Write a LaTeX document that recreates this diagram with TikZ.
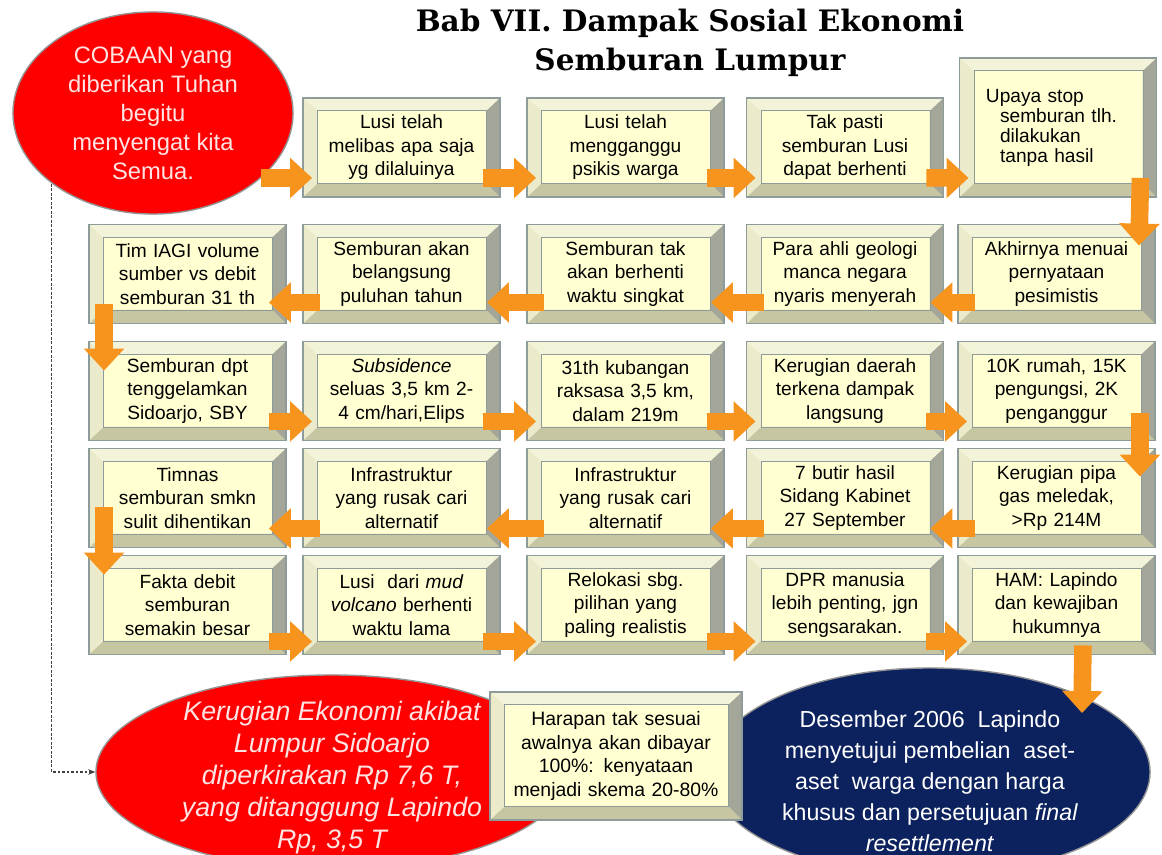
\documentclass[tikz,border=0pt]{standalone}
\usepackage{fontspec}
\setmainfont{Liberation Sans}
\newfontfamily\titlefont{DejaVu Serif}
\usepackage{tikz}
\usetikzlibrary{shapes.geometric}
\usetikzlibrary{arrows.meta}

\definecolor{boxface}{HTML}{FFFFD2}
\definecolor{boxtop}{HTML}{F3F3DA}
\definecolor{boxleft}{HTML}{EBEBCC}
\definecolor{boxright}{HTML}{A3A698}
\definecolor{boxbottom}{HTML}{C6C6A2}
\definecolor{boxedge}{HTML}{8D9B9B}
\definecolor{flowor}{HTML}{F7941D}
\definecolor{lumpur}{HTML}{FF0000}
\definecolor{malam}{HTML}{0C225E}
\definecolor{pinktext}{HTML}{FFE4E4}

\newcommand{\bevelfaces}{%
  \coordinate (pnw) at (path picture bounding box.north west);
  \coordinate (pse) at (path picture bounding box.south east);
  \coordinate (qnw) at ([shift={(0.36cm,-0.32cm)}]pnw);
  \coordinate (qse) at ([shift={(-0.34cm,0.34cm)}]pse);
  \fill[boxtop] (pnw) -- (pnw -| pse) -- (qnw -| qse) -- (qnw) -- cycle;
  \fill[boxbottom] (pnw |- pse) -- (pse) -- (qse) -- (qnw |- qse) -- cycle;
  \fill[boxleft] (pnw) -- (qnw) -- (qnw |- qse) -- (pnw |- pse) -- cycle;
  \fill[boxright] (pnw -| pse) -- (pse) -- (qse) -- (qnw -| qse) -- cycle;
  \draw[boxedge, line width=0.5pt] (qnw) rectangle (qse);
}

\tikzset{
  panel/.style={rectangle, draw=boxedge, line width=1.3pt, fill=boxface, inner sep=0pt,
    minimum width=4.925cm, minimum height=2.475cm, text width=4.5cm, align=center,
    font=\fontsize{13.6}{16.7}\selectfont, path picture={\bevelfaces}},
  oval/.style={ellipse, draw=gray!85, line width=1pt, inner sep=-2cm, align=center},
  flow/.style={draw=flowor, line width=0.44cm, -{Triangle[length=0.55cm,width=0.98cm]}},
  hint/.style={draw=black!75, line width=0.8pt, dash pattern=on 2pt off 1.2pt,
    -{Stealth[length=5pt,width=4pt]}},
}

\begin{document}
\begin{tikzpicture}[x=0.025cm, y=-0.025cm]
        \useasboundingbox (0,0) rectangle (1162,854);

        \node (judul) at (690,43) [align=center, font=\titlefont\bfseries\fontsize{21}{27.5}\selectfont]
            {Bab VII. Dampak Sosial Ekonomi\\Semburan Lumpur};

        \node (cobaan) at (153,113) [oval, fill=lumpur, text=pinktext, minimum width=7cm, minimum height=5.05cm,
            font=\fontsize{16.9}{20.6}\selectfont] {COBAAN yang\\diberikan Tuhan\\begitu\\menyengat kita\\Semua.};
        \node (kerugian) at (332,772) [oval, fill=lumpur, text=pinktext, minimum width=11.8cm, minimum height=4.85cm,
            font=\itshape\fontsize{19}{22.8}\selectfont]
            {\rule{0pt}{22pt}Kerugian Ekonomi akibat\\Lumpur Sidoarjo\\diperkirakan Rp 7,6 T,\\yang ditanggung Lapindo\\Rp, 3,5 T};
        \node (desember) at (930,772) [oval, fill=malam, text=white, minimum width=11cm, minimum height=5.2cm,
            font=\fontsize{16.5}{22}\selectfont]
            {\rule{0pt}{25pt}Desember 2006~ Lapindo\\menyetujui pembelian~ aset-\\aset~ warga dengan harga\\khusus dan persetujuan \textit{final}\\\textit{resettlement}};
        \node (harapan) at (616,756) [panel, minimum width=6.3cm, minimum height=3.2cm, text width=5.6cm,
            font=\fontsize{13.8}{17}\selectfont]
            {Harapan tak sesuai\\awalnya akan dibayar\\100\%: kenyataan\\menjadi skema 20-80\%};

        \node (lusi) at (401.5,147.5) [panel] {Lusi telah\\melibas apa saja\\yg dilaluinya};
        \node (psikis) at (625.5,147.5) [panel] {Lusi telah\\mengganggu\\psikis warga};
        \node (takpasti) at (845,147.5) [panel] {Tak pasti\\semburan Lusi\\dapat berhenti};
        \node (upaya) at (1058,127.5) [panel, minimum height=3.475cm, text width=3.6cm, align=left,
            font=\fontsize{13.6}{14.2}\selectfont]
            {Upaya stop\\\hspace*{10pt}semburan tlh.\\\hspace*{10pt}dilakukan\\\hspace*{10pt}tanpa hasil\\[6pt]};

        \node (akhirnya) at (1056.5,274) [panel] {Akhirnya menuai\\pernyataan\\pesimistis};
        \node (ahli) at (845,274) [panel] {Para ahli geologi\\manca negara\\nyaris menyerah};
        \node (takhenti) at (625.5,274) [panel] {Semburan tak\\akan berhenti\\waktu singkat};
        \node (puluhan) at (401.5,274) [panel] {Semburan akan\\belangsung\\puluhan tahun};
        \node (iagi) at (187.5,274) [panel] {Tim IAGI volume\\sumber vs debit\\semburan 31 th};

        \node (tenggelam) at (187.5,391) [panel] {Semburan dpt\\tenggelamkan\\Sidoarjo, SBY};
        \node (subsid) at (401.5,391) [panel] {\textit{Subsidence}\\seluas 3,5 km 2-\\4 cm/hari,Elips};
        \node (kubangan) at (625.5,391) [panel] {31th kubangan\\raksasa 3,5 km,\\dalam 219m};
        \node (daerah) at (845,391) [panel] {Kerugian daerah\\terkena dampak\\langsung};
        \node (rumah) at (1056.5,391) [panel] {10K rumah, 15K\\pengungsi, 2K\\penganggur};

        \node (pipa) at (1056.5,498) [panel] {Kerugian pipa\\gas meledak,\\>Rp 214M};
        \node (sidang) at (845,498) [panel] {7 butir hasil\\Sidang Kabinet\\27 September};
        \node (infrab) at (625.5,498) [panel] {Infrastruktur\\yang rusak cari\\alternatif};
        \node (infraa) at (401.5,498) [panel] {Infrastruktur\\yang rusak cari\\alternatif};
        \node (timnas) at (187.5,498) [panel] {Timnas\\semburan smkn\\sulit dihentikan};

        \node (fakta) at (187.5,605) [panel] {Fakta debit\\semburan\\semakin besar};
        \node (mudvol) at (401.5,605) [panel] {Lusi~ dari \textit{mud}\\\textit{volcano} berhenti\\waktu lama};
        \node (relokasi) at (625.5,605) [panel] {Relokasi sbg.\\pilihan yang\\paling realistis};
        \node (dpr) at (845,605) [panel] {DPR manusia\\lebih penting, jgn\\sengsarakan.};
        \node (ham) at (1056.5,605) [panel] {HAM: Lapindo\\dan kewajiban\\hukumnya};

        \draw [flow] (cobaan.-31) -- ([shift={(10,-20)}]lusi.south west);
        \draw [flow] ([shift={(-18,-20)}]lusi.south east) -- ([shift={(10,-20)}]psikis.south west);
        \draw [flow] ([shift={(-18,-20)}]psikis.south east) -- ([shift={(10,-20)}]takpasti.south west);
        \draw [flow] ([shift={(-18,-20)}]takpasti.south east) -- ([shift={(10,-20)}]upaya.south west);
        \draw [flow] ([shift={(-17,-20)}]upaya.south east) -- ([shift={(-17,22)}]akhirnya.north east);

        \draw [flow] ([shift={(18,-22)}]akhirnya.south west) -- ([shift={(-14,-22)}]ahli.south east);
        \draw [flow] ([shift={(18,-22)}]ahli.south west) -- ([shift={(-14,-22)}]takhenti.south east);
        \draw [flow] ([shift={(18,-22)}]takhenti.south west) -- ([shift={(-14,-22)}]puluhan.south east);
        \draw [flow] ([shift={(18,-22)}]puluhan.south west) -- ([shift={(-18,-22)}]iagi.south east);
        \draw [flow] ([shift={(16,-20)}]iagi.south west) -- ([shift={(16,30)}]tenggelam.north west);

        \draw [flow] ([shift={(-18,-20)}]tenggelam.south east) -- ([shift={(10,-20)}]subsid.south west);
        \draw [flow] ([shift={(-18,-20)}]subsid.south east) -- ([shift={(10,-20)}]kubangan.south west);
        \draw [flow] ([shift={(-18,-20)}]kubangan.south east) -- ([shift={(10,-20)}]daerah.south west);
        \draw [flow] ([shift={(-18,-20)}]daerah.south east) -- ([shift={(10,-20)}]rumah.south west);
        \draw [flow] ([shift={(-16,-28)}]rumah.south east) -- ([shift={(-16,29)}]pipa.north east);

        \draw [flow] ([shift={(18,-20)}]pipa.south west) -- ([shift={(-14,-20)}]sidang.south east);
        \draw [flow] ([shift={(18,-20)}]sidang.south west) -- ([shift={(-14,-20)}]infrab.south east);
        \draw [flow] ([shift={(18,-20)}]infrab.south west) -- ([shift={(-14,-20)}]infraa.south east);
        \draw [flow] ([shift={(18,-20)}]infraa.south west) -- ([shift={(-18,-20)}]timnas.south east);
        \draw [flow] ([shift={(16,-41)}]timnas.south west) -- ([shift={(16,20)}]fakta.north west);

        \draw [flow] ([shift={(-18,-14)}]fakta.south east) -- ([shift={(10,-14)}]mudvol.south west);
        \draw [flow] ([shift={(-18,-14)}]mudvol.south east) -- ([shift={(10,-14)}]relokasi.south west);
        \draw [flow] ([shift={(-18,-14)}]relokasi.south east) -- ([shift={(10,-14)}]dpr.south west);
        \draw [flow] ([shift={(-18,-14)}]dpr.south east) -- ([shift={(10,-14)}]ham.south west);
        \draw [flow] ([shift={(-73,-10)}]ham.south east) -- ([shift={(152,-59)}]desember.center);

        \draw [hint] (cobaan.215) |- (kerugian.west);
    \end{tikzpicture}
\end{document}
